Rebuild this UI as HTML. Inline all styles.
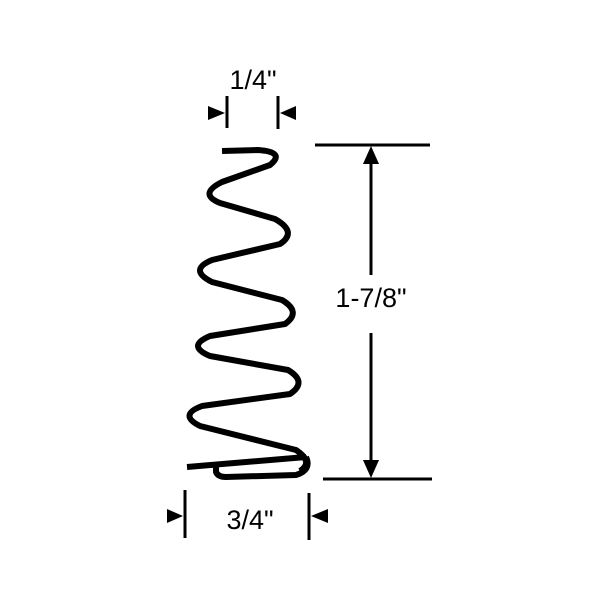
<!DOCTYPE html>
<html><head><style>body{margin:0;background:#fff}svg{display:block}</style></head><body>
<svg width="600" height="600" viewBox="0 0 600 600" xmlns="http://www.w3.org/2000/svg">
<g fill="none" stroke="#000" stroke-width="6" stroke-linecap="butt" stroke-linejoin="round">
<path d="M222,151 L258,150 Q286,152 270,165 L222,182 Q198,194 220,203 L275,219 Q298,232 280,244 L212,260 Q188,270 212,282 L282,300 Q302,312 285,324 L210,336 Q186,346 210,356 L288,370 Q308,382 290,394 L202,406 Q178,415 200,426 L296,450 Q314,462 300,471"/>
<path d="M187,467 L306,457"/>
<path d="M216,463 L216,472 Q218,477 226,477 L296,475 Q312,470 306,457"/>
</g>
<g stroke="#000" stroke-width="3" fill="none">
<line x1="315" y1="145" x2="430" y2="145"/>
<line x1="323" y1="479" x2="432" y2="479"/>
<line x1="371" y1="160" x2="371" y2="275"/>
<line x1="371" y1="333" x2="371" y2="462"/>
<line x1="227" y1="96" x2="227" y2="128"/>
<line x1="278" y1="96" x2="278" y2="129"/>
<line x1="185" y1="490" x2="185" y2="538"/>
<line x1="309" y1="493" x2="309" y2="540"/>
</g>
<g fill="#000">
<polygon points="371,146 363,164 379,164"/>
<polygon points="371,478 363,460 379,460"/>
<polygon points="225,113 208,106 208,120"/>
<polygon points="280,113 296,106 296,120"/>
<polygon points="183,516 167,509 167,523"/>
<polygon points="311,516 328,509 328,523"/>
</g>
<g font-family="Liberation Sans, sans-serif" font-size="27" fill="#000" text-anchor="middle">
<text x="253" y="89">1/4"</text>
<text x="371" y="307">1-7/8"</text>
<text x="250" y="529">3/4"</text>
</g>
</svg>
</body></html>
